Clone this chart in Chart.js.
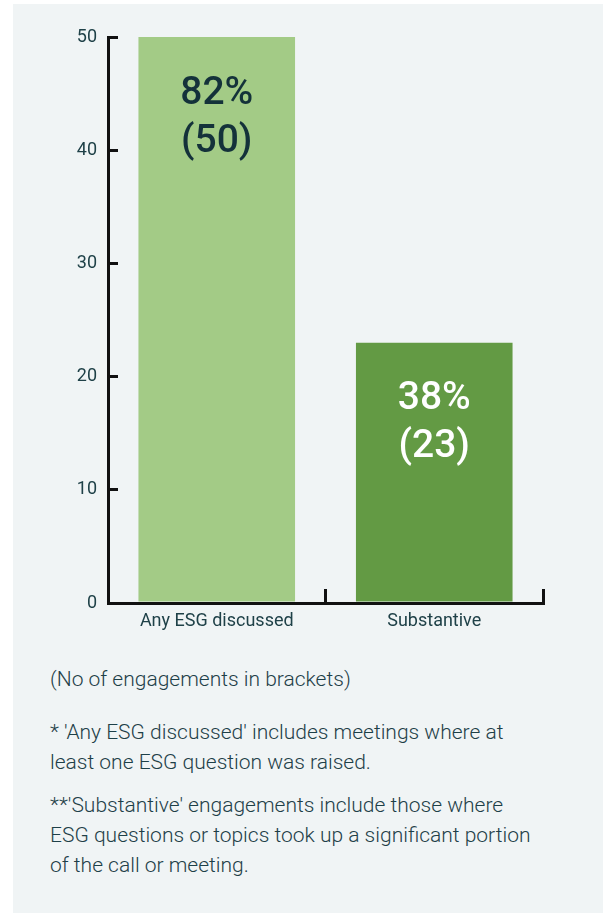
<!DOCTYPE html>
<html lang="en">
<head>
  <meta charset="UTF-8">
  <title>ESG engagements</title>
  <script src="https://cdn.jsdelivr.net/npm/chart.js"></script>
  <style>
    html, body { margin: 0; padding: 0; background: #ffffff; }
    body { width: 603px; height: 915px; position: relative; overflow: hidden; font-family: Roboto, sans-serif; }
    .panel { position: absolute; left: 13px; top: 4px; width: 590px; height: 909px; background: #f0f4f5; }
    #esgChart { position: absolute; left: 0; top: 0; }
    .notes { position: absolute; left: 50px; top: 664px; color: #1e4048; font-size: 21px; font-weight: 300; line-height: 30px; white-space: nowrap; }
    .notes p { margin: 0; }
    .notes p.first { margin-bottom: 23px; }
    .notes p.second { margin-bottom: 13px; }
  </style>
</head>
<body>
  <div class="panel"></div>
  <canvas id="esgChart" width="603" height="645"></canvas>
  <div class="notes">
    <p class="first">(No of engagements in brackets)</p>
    <p class="second">* 'Any ESG discussed' includes meetings where at<br>least one ESG question was raised.</p>
    <p>**'Substantive' engagements include those where<br>ESG questions or topics took up a significant portion<br>of the call or meeting.</p>
  </div>

  <script>
    const categories = ['Any ESG discussed', 'Substantive'];
    const engagements = [50, 23];
    const shares = [82, 38];
    const barColors = ['#a3cb86', '#639a44'];
    const labelColors = ['#14323a', '#ffffff'];
    const yTicks = [0, 10, 20, 30, 40, 50];

    // percentage + count written inside each bar, near its top
    const barLabels = {
      id: 'barLabels',
      afterDatasetsDraw(chart) {
        const ctx = chart.ctx;
        const meta = chart.getDatasetMeta(0);
        ctx.save();
        ctx.font = '500 39px Roboto';
        ctx.textAlign = 'center';
        ctx.textBaseline = 'middle';
        meta.data.forEach((bar, i) => {
          ctx.fillStyle = labelColors[i];
          ctx.fillText(shares[i] + '%', bar.x, bar.y + 57);
          ctx.fillText('(' + engagements[i] + ')', bar.x, bar.y + 105);
        });
        ctx.restore();
      }
    };

    const ctx = document.getElementById('esgChart').getContext('2d');
    new Chart(ctx, {
      type: 'bar',
      data: {
        labels: categories,
        datasets: [{
          data: engagements,
          backgroundColor: barColors,
          borderWidth: 0,
          barPercentage: 0.72,
          categoryPercentage: 1
        }]
      },
      options: {
        responsive: false,
        animation: false,
        layout: { padding: { top: 37, right: 60, left: 0, bottom: 0 } },
        plugins: { legend: { display: false }, tooltip: { enabled: false } },
        scales: {
          x: {
            border: { color: '#111111', width: 3 },
            grid: { drawOnChartArea: false, color: '#111111', lineWidth: 3, tickLength: -14 },
            ticks: { color: '#1f4148', font: { family: 'Roboto', size: 18 }, padding: 22 },
            afterFit(scale) { scale.height = 42; }
          },
          y: {
            min: 0,
            max: 50,
            afterBuildTicks(scale) { scale.ticks = yTicks.map(v => ({ value: v })); },
            border: { color: '#111111', width: 3 },
            grid: { drawOnChartArea: false, color: '#111111', lineWidth: 3, tickLength: -10 },
            ticks: { color: '#1f4148', font: { family: 'Roboto', size: 18 }, padding: 21 },
            afterFit(scale) { scale.width = 108; }
          }
        }
      },
      plugins: [barLabels]
    });
  </script>
</body>
</html>
